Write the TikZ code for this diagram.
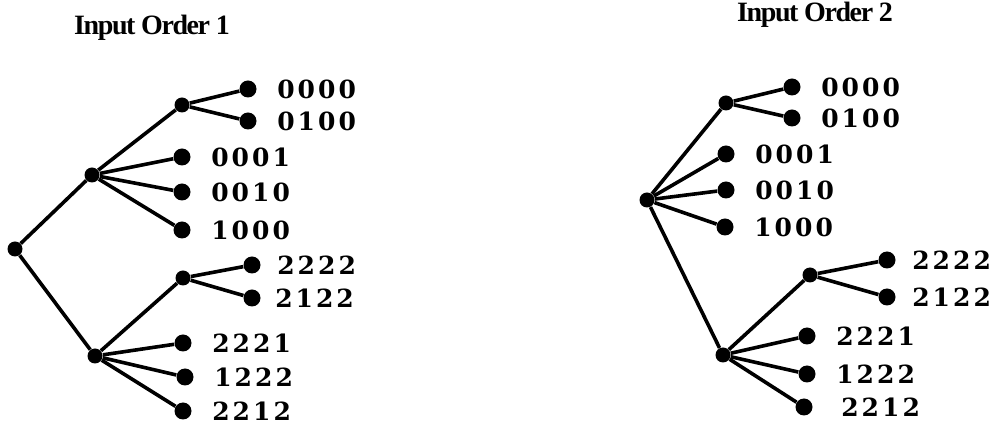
\documentclass[tikz,border=0pt]{standalone}
\usepackage{fontspec}
\setmainfont{Liberation Serif}
\newfontfamily\codefont[LetterSpace=12]{DejaVu Serif}
\newfontfamily\headfont[LetterSpace=-5]{Liberation Serif}
\usetikzlibrary{positioning}
\tikzset{
  knot/.style={circle, fill=black, inner sep=0pt, minimum size=7.5pt},
  leaf/.style={knot, minimum size=8.5pt},
  branch/.style={line width=1.8pt},
  codetext/.style={font=\codefont\bfseries\fontsize{12.5}{14}\selectfont, inner sep=0pt},
  headtext/.style={font=\headfont\bfseries\fontsize{14}{16}\selectfont, inner sep=0pt}
}

\begin{document}
\begin{tikzpicture}[x=0.5pt, y=-0.5pt]
  \useasboundingbox (0,0) rectangle (998,427);
  % --- Input Order 1 ---
  \node[headtext] (t1) at (152,28) {Input Order 1};
  \node[knot] (r1) at (15,249) {};
  \node[knot] (p1) at (92,175) {};
  \node[knot] (q1) at (95,356) {};
  \node[knot] (pa1) at (182,105) {};
  \node[knot] (qa1) at (183,278) {};
  \foreach \n/\x/\y/\s/\g in {u1/248/89/0000/10pt, u2/248/121/0100/10pt,
      u3/182/157/0001/10pt, u4/182/192/0010/10pt, u5/182/230/1000/10pt,
      u6/252/265/2222/8pt, u7/252/298/2122/7pt,
      u8/183/343/2221/10pt, u9/185/377/1222/10pt, u10/183/411/2212/10pt} {
    \node[leaf] (\n) at (\x,\y) {};
    \node[codetext, right=\g of \n] (\n-txt) {\s};
  }
  \foreach \c in {p1,q1} \draw[branch] (r1) -- (\c);
  \foreach \c in {pa1,u3,u4,u5} \draw[branch] (p1) -- (\c);
  \foreach \c in {u1,u2} \draw[branch] (pa1) -- (\c);
  \foreach \c in {qa1,u8,u9,u10} \draw[branch] (q1) -- (\c);
  \foreach \c in {u6,u7} \draw[branch] (qa1) -- (\c);
  % --- Input Order 2 ---
  \node[headtext] (t2) at (815,15) {Input Order 2};
  \node[knot] (r2) at (647,200) {};
  \node[knot] (pa2) at (726,103) {};
  \node[knot] (q2) at (723,355) {};
  \node[knot] (qa2) at (810,275) {};
  \foreach \n/\x/\y/\s/\g in {v1/792/87/0000/10pt, v2/792/118/0100/10pt,
      v3/726/154/0001/10pt, v4/726/190/0010/10pt, v5/725/227/1000/10pt,
      v6/887/260/2222/8pt, v7/887/297/2122/8pt,
      v8/807/336/2221/10pt, v9/807/374/1222/10pt, v10/804/407/2212/14pt} {
    \node[leaf] (\n) at (\x,\y) {};
    \node[codetext, right=\g of \n] (\n-txt) {\s};
  }
  \foreach \c in {pa2,v3,v4,v5,q2} \draw[branch] (r2) -- (\c);
  \foreach \c in {v1,v2} \draw[branch] (pa2) -- (\c);
  \foreach \c in {qa2,v8,v9,v10} \draw[branch] (q2) -- (\c);
  \foreach \c in {v6,v7} \draw[branch] (qa2) -- (\c);
\end{tikzpicture}
\end{document}
